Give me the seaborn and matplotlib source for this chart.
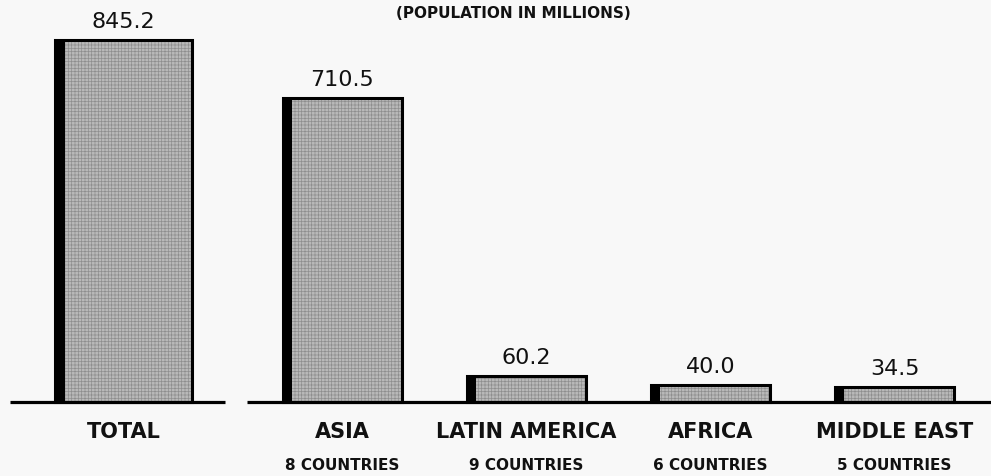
import numpy as np
import pandas as pd
import seaborn as sns
import matplotlib.pyplot as plt

# data (population in millions)
total_label = "TOTAL"
total_pop = 845.2
regions = ["ASIA", "LATIN AMERICA", "AFRICA", "MIDDLE EAST"]
region_pop = [710.5, 60.2, 40.0, 34.5]
region_countries = ["8 COUNTRIES", "9 COUNTRIES", "6 COUNTRIES", "5 COUNTRIES"]

# bar positions along the x axis (total sits apart on its own baseline)
total_x = -1.19
region_x = [0, 1, 2, 3]

sns.set_style("white")
plt.rcParams['font.family'] = ['DejaVu Sans']
plt.rcParams['hatch.linewidth'] = 0.5

total_df = pd.DataFrame({"x": [total_x], "pop": [total_pop]})
region_df = pd.DataFrame({"x": region_x, "pop": region_pop})

fig = plt.figure(figsize=(9.91, 4.76), dpi=100)
fig.patch.set_facecolor('#f8f8f8')
ax = fig.add_axes([0, 0, 1, 1])
ax.set_facecolor('#f8f8f8')

# stippled grey fill (hatch takes the edge colour, outline drawn after)
bar_kw = dict(color='#b9b9b9', saturation=1, errorbar=None, native_scale=True,
              hatch='+++++', edgecolor='#8e8e8e', linewidth=0)
sns.barplot(data=total_df, x="x", y="pop", width=0.745, ax=ax, **bar_kw)
sns.barplot(data=region_df, x="x", y="pop", width=0.65, ax=ax, **bar_kw)

# black outlines
ax.bar([total_x], [total_pop], width=0.745, fill=False, edgecolor='black', linewidth=2.2, zorder=3)
ax.bar(region_x, region_pop, width=0.65, fill=False, edgecolor='black', linewidth=2.2, zorder=3)

# dark left side of each bar (the 3d look)
side_w = 0.052
ax.bar([total_x - 0.745 / 2], [total_pop], width=side_w, align='edge', color='black',
       edgecolor='black', linewidth=0, zorder=3)
ax.bar([x - 0.65 / 2 for x in region_x], region_pop, width=side_w, align='edge',
       color='black', edgecolor='black', linewidth=0, zorder=3)

# baselines
ax.plot([-1.807, -0.639], [0, 0], color='black', lw=2.3, solid_capstyle='butt', zorder=4)
ax.plot([-0.519, 3.6], [0, 0], color='black', lw=2.3, solid_capstyle='butt', zorder=4)

# value labels
for x, v in zip([total_x] + region_x, [total_pop] + region_pop):
    ax.annotate("{0:.1f}".format(v), (x, v), xytext=(0, 13), textcoords='offset points',
                ha='center', va='center', fontsize=16, color='#111111')

# category labels
ax.text(total_x, -70, total_label, ha='center', va='center', fontsize=15,
        fontweight='bold', color='#111111')
for x, name, sub in zip(region_x, regions, region_countries):
    ax.text(x, -70, name, ha='center', va='center', fontsize=15,
            fontweight='bold', color='#111111')
    ax.text(x, -149, sub, ha='center', va='center', fontsize=11,
            fontweight='bold', color='#111111')

ax.text(0.93, 908, "(POPULATION IN MILLIONS)", ha='center', va='center', fontsize=11,
        fontweight='bold', color='#111111')

ax.set_xlim(-1.861, 3.524)
ax.set_ylim(-172.9, 939.3)
ax.axis('off')

fig.savefig('out.png', dpi=100, facecolor=fig.get_facecolor())
